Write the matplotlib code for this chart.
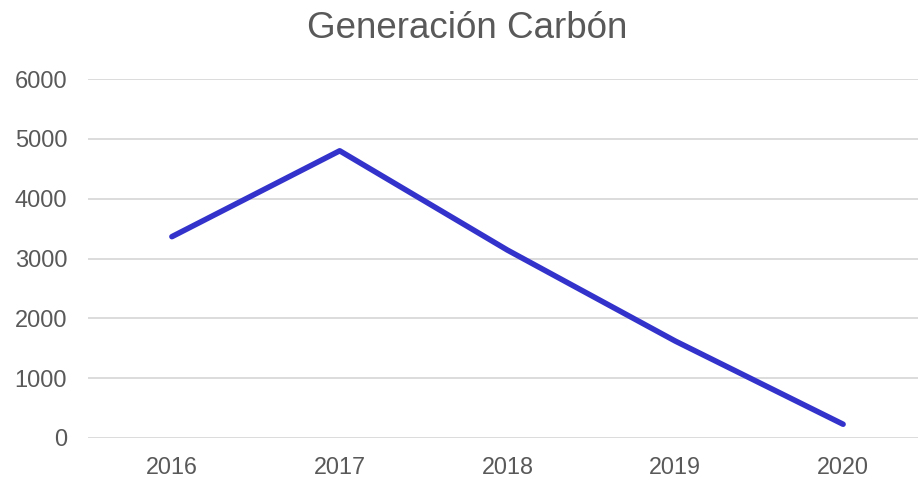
import matplotlib
matplotlib.use("Agg")
import matplotlib.pyplot as plt

# data
years = ["2016", "2017", "2018", "2019", "2020"]
generacion = [3365, 4800, 3140, 1620, 230]

plt.rcParams['font.family'] = ['Liberation Sans', 'DejaVu Sans']

fig = plt.figure(figsize=(9.18, 4.8), dpi=100)
ax = fig.add_axes([88 / 918, 42 / 480, 839 / 918, 359 / 480])

x = range(len(years))
ax.plot(x, generacion, color="#3333CC", linewidth=4, solid_capstyle="round", solid_joinstyle="round", zorder=3)

ax.set_xlim(-0.5, 4.5)
ax.set_ylim(0, 6000)
ax.set_yticks(range(0, 6001, 1000))
ax.set_xticks(list(x))
ax.set_xticklabels(years)

ax.grid(axis="y", color="#D9D9D9", linewidth=1.3)
ax.set_axisbelow(True)
for s in ax.spines.values():
    s.set_visible(False)
ax.tick_params(axis="both", length=0, labelcolor="#595959")
ax.tick_params(axis="x", pad=13, labelsize=16.8)
ax.tick_params(axis="y", pad=15, labelsize=17)

fig.text(467 / 918, 1 - 38 / 480, "Generación Carbón", ha="center", va="baseline",
         fontsize=26.5, color="#595959")

fig.savefig("out.png", dpi=100)
